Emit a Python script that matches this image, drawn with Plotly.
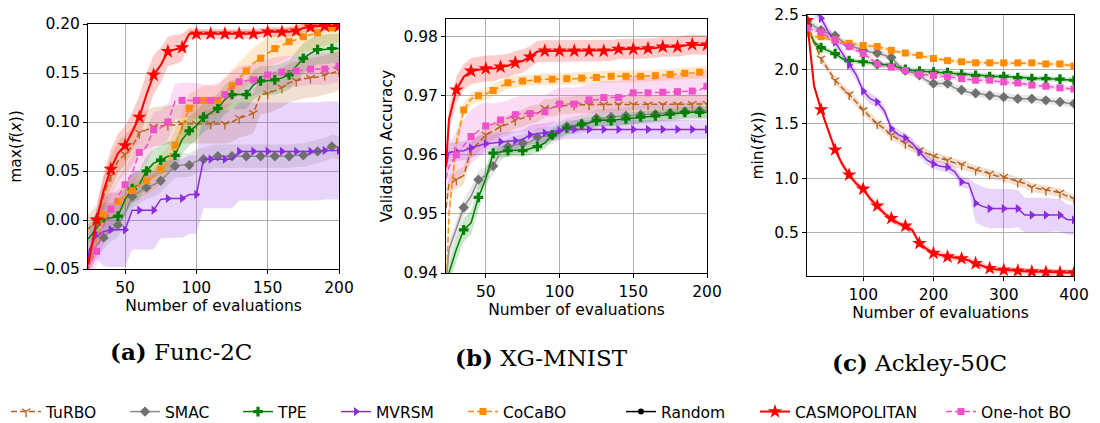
import plotly.graph_objects as go

# ---------------- data ----------------
X_AB = [23, 25, 30, 35, 40, 45, 50, 55, 60, 65, 70, 75, 80, 85, 90, 95, 100,
        105, 110, 115, 120, 125, 130, 135, 140, 145, 150, 155, 160, 165, 170,
        175, 180, 185, 190, 195, 200]
X_C = [20, 30, 40, 50, 60, 70, 80, 90, 100, 110, 120, 130, 140, 150, 160, 170,
       180, 190, 200, 210, 220, 230, 240, 250, 260, 270, 280, 290, 300, 310,
       320, 330, 340, 350, 360, 370, 380, 390, 400]

SERIES = ["TuRBO", "SMAC", "TPE", "MVRSM", "CoCaBO", "Random", "CASMOPOLITAN", "One-hot BO"]

# (a) Func-2C : max(f(x))
A_TURBO = [-0.010, -0.008, 0.000, 0.025, 0.045, 0.060, 0.067, 0.075, 0.089, 0.092, 0.095, 0.096, 0.097,
           0.097, 0.098, 0.098, 0.098, 0.098, 0.098, 0.098, 0.098, 0.100, 0.104, 0.106, 0.109, 0.128,
           0.129, 0.132, 0.135, 0.140, 0.142, 0.144, 0.145, 0.146, 0.148, 0.150, 0.152]
A_TURBO_ERR = [0.015, 0.015, 0.015, 0.018, 0.02, 0.02, 0.02, 0.02, 0.02, 0.02, 0.02, 0.02, 0.02,
               0.02, 0.02, 0.02, 0.02, 0.02, 0.02, 0.02, 0.02, 0.02, 0.02, 0.02, 0.02, 0.02,
               0.02, 0.02, 0.02, 0.02, 0.02, 0.02, 0.02, 0.02, 0.02, 0.02, 0.02]
A_SMAC = [-0.050, -0.045, -0.025, -0.018, -0.010, -0.005, 0.007, 0.024, 0.029, 0.033, 0.036, 0.040, 0.048,
          0.055, 0.056, 0.056, 0.060, 0.062, 0.064, 0.065, 0.065, 0.065, 0.065, 0.065, 0.065, 0.065,
          0.065, 0.065, 0.065, 0.065, 0.066, 0.066, 0.068, 0.070, 0.072, 0.075, 0.074]
A_SMAC_ERR = [0.012] * 37
A_TPE = [-0.020, -0.018, -0.008, 0.002, 0.002, 0.004, 0.021, 0.032, 0.036, 0.050, 0.058, 0.061, 0.065,
         0.066, 0.082, 0.091, 0.096, 0.105, 0.109, 0.114, 0.123, 0.128, 0.128, 0.128, 0.138, 0.142,
         0.142, 0.143, 0.145, 0.148, 0.157, 0.165, 0.170, 0.174, 0.174, 0.175, 0.175]
A_TPE_ERR = [0.015] * 37
A_MVRSM = [-0.050, -0.030, -0.015, -0.012, -0.010, -0.010, -0.010, 0.010, 0.010, 0.010, 0.010, 0.021, 0.022,
           0.022, 0.022, 0.026, 0.026, 0.062, 0.062, 0.062, 0.062, 0.062, 0.070, 0.070, 0.070, 0.070,
           0.070, 0.070, 0.070, 0.070, 0.070, 0.070, 0.070, 0.070, 0.071, 0.071, 0.071]
A_MVRSM_ERR = [0.010, 0.020, 0.025, 0.035, 0.038, 0.038, 0.038, 0.040, 0.040, 0.040, 0.040, 0.040, 0.040,
               0.040, 0.040, 0.040, 0.040, 0.050, 0.050, 0.050, 0.050, 0.050, 0.050, 0.050, 0.050, 0.050,
               0.050, 0.050, 0.050, 0.050, 0.050, 0.050, 0.050, 0.050, 0.050, 0.050, 0.050]
A_COCABO = [-0.050, -0.045, -0.020, 0.005, 0.014, 0.019, 0.024, 0.030, 0.036, 0.040, 0.044, 0.052, 0.060,
            0.076, 0.095, 0.114, 0.118, 0.122, 0.122, 0.122, 0.130, 0.137, 0.145, 0.152, 0.160, 0.165,
            0.170, 0.175, 0.178, 0.182, 0.184, 0.187, 0.189, 0.191, 0.194, 0.196, 0.197]
A_COCABO_ERR = [0.010, 0.010, 0.012, 0.012, 0.012, 0.012, 0.012, 0.012, 0.012, 0.014, 0.014, 0.015, 0.015,
                0.015, 0.015, 0.015, 0.015, 0.015, 0.015, 0.015, 0.016, 0.016, 0.016, 0.016, 0.016, 0.016,
                0.016, 0.016, 0.016, 0.016, 0.016, 0.016, 0.016, 0.016, 0.016, 0.016, 0.016]
A_CASMO = [-0.055, -0.040, 0.000, 0.030, 0.052, 0.068, 0.076, 0.090, 0.105, 0.128, 0.148, 0.158, 0.172,
           0.174, 0.176, 0.190, 0.190, 0.190, 0.190, 0.190, 0.190, 0.190, 0.190, 0.190, 0.190, 0.191,
           0.192, 0.192, 0.192, 0.192, 0.193, 0.196, 0.197, 0.198, 0.198, 0.198, 0.198]
A_CASMO_ERR = [0.005, 0.008, 0.012, 0.018, 0.020, 0.020, 0.020, 0.020, 0.022, 0.022, 0.020, 0.018, 0.015,
               0.015, 0.014, 0.006, 0.005, 0.005, 0.005, 0.005, 0.005, 0.005, 0.005, 0.005, 0.005, 0.005,
               0.005, 0.005, 0.005, 0.005, 0.005, 0.005, 0.005, 0.005, 0.005, 0.005, 0.005]
A_ONEHOT = [-0.050, -0.045, -0.032, -0.006, 0.011, 0.024, 0.036, 0.048, 0.069, 0.075, 0.092, 0.094, 0.100,
            0.121, 0.122, 0.122, 0.122, 0.122, 0.122, 0.124, 0.128, 0.135, 0.141, 0.142, 0.143, 0.146,
            0.148, 0.150, 0.151, 0.151, 0.152, 0.153, 0.154, 0.154, 0.154, 0.155, 0.157]
A_ONEHOT_ERR = [0.015, 0.015, 0.015, 0.018, 0.018, 0.018, 0.018, 0.018, 0.018, 0.018, 0.018, 0.018, 0.018,
                0.018, 0.018, 0.018, 0.018, 0.016, 0.016, 0.016, 0.016, 0.016, 0.016, 0.016, 0.016, 0.016,
                0.016, 0.016, 0.016, 0.016, 0.016, 0.016, 0.016, 0.016, 0.016, 0.016, 0.016]

# (b) XG-MNIST : validation accuracy
B_TURBO = [0.9510, 0.9550, 0.9558, 0.9565, 0.9608, 0.9620, 0.9634, 0.9640, 0.9648, 0.9652, 0.9659, 0.9662,
           0.9668, 0.9670, 0.9679, 0.9680, 0.9683, 0.9684, 0.9685, 0.9685, 0.9685, 0.9685, 0.9685, 0.9685,
           0.9685, 0.9685, 0.9685, 0.9685, 0.9685, 0.9685, 0.9685, 0.9685, 0.9685, 0.9685, 0.9686, 0.9686, 0.9686]
B_TURBO_ERR = [0.0015] * 37
B_SMAC = [0.9380, 0.9440, 0.9475, 0.9511, 0.9530, 0.9558, 0.9565, 0.9581, 0.9605, 0.9614, 0.9617, 0.9620,
          0.9622, 0.9630, 0.9632, 0.9633, 0.9640, 0.9648, 0.9650, 0.9652, 0.9655, 0.9662, 0.9662, 0.9664,
          0.9665, 0.9666, 0.9667, 0.9668, 0.9668, 0.9669, 0.9670, 0.9671, 0.9672, 0.9673, 0.9674, 0.9675, 0.9675]
B_SMAC_ERR = [0.0015] * 37
B_TPE = [0.9360, 0.9400, 0.9440, 0.9473, 0.9485, 0.9528, 0.9560, 0.9603, 0.9605, 0.9607, 0.9608, 0.9607,
         0.9610, 0.9614, 0.9620, 0.9634, 0.9640, 0.9645, 0.9648, 0.9652, 0.9654, 0.9658, 0.9659, 0.9658,
         0.9660, 0.9661, 0.9662, 0.9664, 0.9665, 0.9666, 0.9667, 0.9669, 0.9670, 0.9672, 0.9672, 0.9672, 0.9672]
B_TPE_ERR = [0.0020, 0.0020, 0.0020, 0.0020, 0.0020, 0.0020, 0.0018, 0.0012, 0.0010, 0.0010, 0.0010, 0.0010,
             0.0010, 0.0010, 0.0010, 0.0010, 0.0010, 0.0010, 0.0010, 0.0010, 0.0010, 0.0010, 0.0010, 0.0010,
             0.0010, 0.0010, 0.0010, 0.0010, 0.0010, 0.0010, 0.0010, 0.0010, 0.0010, 0.0010, 0.0010, 0.0010, 0.0010]
B_MVRSM = [0.9580, 0.9604, 0.9606, 0.9607, 0.9612, 0.9616, 0.9619, 0.9620, 0.9622, 0.9623, 0.9624, 0.9626,
           0.9634, 0.9636, 0.9637, 0.9640, 0.9641, 0.9643, 0.9643, 0.9643, 0.9643, 0.9643, 0.9643, 0.9643,
           0.9643, 0.9643, 0.9643, 0.9643, 0.9643, 0.9643, 0.9643, 0.9643, 0.9643, 0.9643, 0.9643, 0.9643, 0.9643]
B_MVRSM_ERR = [0.0016] * 37
B_COCABO = [0.9360, 0.9500, 0.9620, 0.9676, 0.9695, 0.9700, 0.9703, 0.9709, 0.9715, 0.9722, 0.9724, 0.9725,
            0.9727, 0.9728, 0.9728, 0.9728, 0.9729, 0.9729, 0.9729, 0.9730, 0.9730, 0.9731, 0.9732, 0.9733,
            0.9733, 0.9733, 0.9733, 0.9733, 0.9733, 0.9734, 0.9735, 0.9736, 0.9737, 0.9738, 0.9739, 0.9740, 0.9740]
B_COCABO_ERR = [0.0020, 0.0020, 0.0015, 0.0012, 0.0010, 0.0010, 0.0010, 0.0010, 0.0010, 0.0010, 0.0010, 0.0010,
                0.0010, 0.0010, 0.0010, 0.0010, 0.0010, 0.0010, 0.0010, 0.0010, 0.0010, 0.0010, 0.0010, 0.0010,
                0.0010, 0.0010, 0.0010, 0.0010, 0.0010, 0.0010, 0.0010, 0.0010, 0.0010, 0.0010, 0.0010, 0.0010, 0.0010]
B_CASMO = [0.9580, 0.9660, 0.9710, 0.9732, 0.9742, 0.9744, 0.9746, 0.9746, 0.9749, 0.9751, 0.9756, 0.9759,
           0.9766, 0.9775, 0.9776, 0.9776, 0.9776, 0.9776, 0.9776, 0.9776, 0.9776, 0.9776, 0.9776, 0.9777,
           0.9779, 0.9779, 0.9779, 0.9779, 0.9780, 0.9781, 0.9783, 0.9783, 0.9783, 0.9785, 0.9787, 0.9786, 0.9786]
B_CASMO_ERR = [0.0020, 0.0022, 0.0022, 0.0022, 0.0022, 0.0022, 0.0022, 0.0022, 0.0020, 0.0020, 0.0020, 0.0020,
               0.0018, 0.0018, 0.0018, 0.0018, 0.0018, 0.0018, 0.0018, 0.0018, 0.0018, 0.0018, 0.0018, 0.0018,
               0.0017, 0.0017, 0.0017, 0.0017, 0.0017, 0.0017, 0.0017, 0.0017, 0.0017, 0.0017, 0.0017, 0.0017, 0.0017]
B_ONEHOT = [0.9560, 0.9580, 0.9600, 0.9615, 0.9631, 0.9640, 0.9649, 0.9652, 0.9659, 0.9662, 0.9668, 0.9670,
            0.9670, 0.9671, 0.9673, 0.9680, 0.9686, 0.9686, 0.9686, 0.9688, 0.9693, 0.9693, 0.9697, 0.9697,
            0.9697, 0.9700, 0.9705, 0.9705, 0.9705, 0.9705, 0.9706, 0.9706, 0.9707, 0.9707, 0.9708, 0.9710, 0.9716]
B_ONEHOT_ERR = [0.0030, 0.0035, 0.0040, 0.0045, 0.0045, 0.0045, 0.0040, 0.0035, 0.0030, 0.0030, 0.0030, 0.0030,
                0.0030, 0.0030, 0.0028, 0.0028, 0.0028, 0.0028, 0.0028, 0.0028, 0.0028, 0.0028, 0.0028, 0.0028,
                0.0028, 0.0028, 0.0028, 0.0028, 0.0028, 0.0028, 0.0028, 0.0028, 0.0028, 0.0028, 0.0028, 0.0028, 0.0028]

# (c) Ackley-50C : min(f(x))
C_TURBO = [2.42, 2.25, 2.10, 2.00, 1.90, 1.83, 1.77, 1.70, 1.625, 1.56, 1.50, 1.455, 1.395, 1.355, 1.32,
           1.28, 1.255, 1.225, 1.20, 1.18, 1.165, 1.14, 1.125, 1.10, 1.075, 1.06, 1.04, 1.02, 1.01, 0.99,
           0.965, 0.95, 0.915, 0.90, 0.89, 0.88, 0.865, 0.835, 0.81]
C_TURBO_ERR = [0.04] * 39
C_SMAC = [2.45, 2.40, 2.36, 2.33, 2.31, 2.26, 2.22, 2.20, 2.175, 2.16, 2.15, 2.13, 2.11, 2.04, 1.99,
          1.97, 1.945, 1.90, 1.87, 1.87, 1.87, 1.83, 1.81, 1.79, 1.78, 1.77, 1.76, 1.75, 1.745, 1.74,
          1.73, 1.73, 1.73, 1.72, 1.715, 1.71, 1.70, 1.69, 1.685]
C_SMAC_ERR = [0.035] * 39
C_TPE = [2.40, 2.25, 2.20, 2.17, 2.145, 2.10, 2.08, 2.075, 2.07, 2.06, 2.05, 2.045, 2.04, 2.02, 2.00,
         1.99, 1.985, 1.98, 1.975, 1.97, 1.97, 1.96, 1.955, 1.95, 1.945, 1.94, 1.935, 1.935, 1.935, 1.93,
         1.925, 1.92, 1.915, 1.915, 1.915, 1.91, 1.91, 1.905, 1.90]
C_TPE_ERR = [0.025] * 39
C_MVRSM = [2.60, 2.55, 2.47, 2.35, 2.25, 2.15, 2.04, 1.95, 1.80, 1.73, 1.70, 1.62, 1.455, 1.40, 1.37,
           1.32, 1.24, 1.17, 1.13, 1.11, 1.10, 1.06, 0.965, 0.95, 0.77, 0.74, 0.72, 0.72, 0.72, 0.72,
           0.72, 0.66, 0.66, 0.66, 0.66, 0.66, 0.66, 0.62, 0.615]
C_MVRSM_ERR = [0.05, 0.05, 0.05, 0.05, 0.05, 0.05, 0.05, 0.05, 0.05, 0.05, 0.045, 0.045, 0.045, 0.045, 0.045,
               0.045, 0.045, 0.045, 0.045, 0.045, 0.045, 0.045, 0.05, 0.05, 0.18, 0.18, 0.18, 0.18, 0.18, 0.18,
               0.17, 0.16, 0.16, 0.16, 0.16, 0.15, 0.15, 0.14, 0.14]
C_COCABO = [2.33, 2.30, 2.30, 2.28, 2.27, 2.25, 2.24, 2.23, 2.22, 2.215, 2.21, 2.19, 2.175, 2.16, 2.15,
            2.14, 2.13, 2.115, 2.10, 2.09, 2.08, 2.075, 2.07, 2.065, 2.06, 2.06, 2.06, 2.06, 2.06, 2.06,
            2.06, 2.06, 2.06, 2.055, 2.05, 2.05, 2.05, 2.04, 2.03]
C_COCABO_ERR = [0.02] * 39
C_CASMO = [2.45, 1.85, 1.63, 1.44, 1.26, 1.13, 1.03, 0.95, 0.90, 0.81, 0.745, 0.675, 0.63, 0.585, 0.56,
           0.52, 0.40, 0.35, 0.31, 0.29, 0.277, 0.27, 0.26, 0.245, 0.215, 0.195, 0.17, 0.16, 0.155, 0.15,
           0.148, 0.14, 0.14, 0.138, 0.135, 0.133, 0.132, 0.13, 0.13]
C_CASMO_ERR = [0.03] * 39
C_ONEHOT = [2.38, 2.36, 2.34, 2.30, 2.27, 2.24, 2.21, 2.18, 2.145, 2.10, 2.05, 2.03, 2.02, 2.00, 1.99,
            1.97, 1.955, 1.95, 1.945, 1.94, 1.935, 1.925, 1.915, 1.905, 1.90, 1.90, 1.90, 1.89, 1.885, 1.88,
            1.875, 1.865, 1.855, 1.85, 1.845, 1.84, 1.83, 1.825, 1.82]
C_ONEHOT_ERR = [0.025] * 39

PANELS = [
    dict(x=X_AB, ax="", mstart=30, step=10, data={
        "TuRBO": (A_TURBO, A_TURBO_ERR), "SMAC": (A_SMAC, A_SMAC_ERR), "TPE": (A_TPE, A_TPE_ERR),
        "MVRSM": (A_MVRSM, A_MVRSM_ERR), "CoCaBO": (A_COCABO, A_COCABO_ERR),
        "CASMOPOLITAN": (A_CASMO, A_CASMO_ERR), "One-hot BO": (A_ONEHOT, A_ONEHOT_ERR)}),
    dict(x=X_AB, ax="2", mstart=30, step=10, data={
        "TuRBO": (B_TURBO, B_TURBO_ERR), "SMAC": (B_SMAC, B_SMAC_ERR), "TPE": (B_TPE, B_TPE_ERR),
        "MVRSM": (B_MVRSM, B_MVRSM_ERR), "CoCaBO": (B_COCABO, B_COCABO_ERR),
        "CASMOPOLITAN": (B_CASMO, B_CASMO_ERR), "One-hot BO": (B_ONEHOT, B_ONEHOT_ERR)}),
    dict(x=X_C, ax="3", mstart=20, step=20, data={
        "TuRBO": (C_TURBO, C_TURBO_ERR), "SMAC": (C_SMAC, C_SMAC_ERR), "TPE": (C_TPE, C_TPE_ERR),
        "MVRSM": (C_MVRSM, C_MVRSM_ERR), "CoCaBO": (C_COCABO, C_COCABO_ERR),
        "CASMOPOLITAN": (C_CASMO, C_CASMO_ERR), "One-hot BO": (C_ONEHOT, C_ONEHOT_ERR)}),
]

# ---------------- styles ----------------
STYLE = {
    "TuRBO":        dict(color="#b8621b", mcolor="#b8621b", dash="6px,3px", sym="y-down", size=7, lw=1.5, off=0),
    "SMAC":         dict(color="#8a8a8a", mcolor="#707070", dash="solid", sym="diamond", size=8, lw=1.5, off=5),
    "TPE":          dict(color="#008000", mcolor="#008000", dash="solid", sym="cross", size=8, lw=1.5, off=5),
    "MVRSM":        dict(color="#8a2be2", mcolor="#8a2be2", dash="solid", sym="triangle-right", size=8, lw=1.5, off=0),
    "CoCaBO":       dict(color="#ff8c00", mcolor="#ff8c00", dash="6px,3px", sym="square", size=7, lw=1.5, off=5),
    "Random":       dict(color="#000000", mcolor="#000000", dash="solid", sym="circle", size=6, lw=1.5, off=0),
    "CASMOPOLITAN": dict(color="#ff0000", mcolor="#ff0000", dash="solid", sym="star", size=11, lw=2.0, off=0),
    "One-hot BO":   dict(color="#f050c8", mcolor="#f050c8", dash="6px,3px", sym="square", size=7, lw=1.5, off=0),
}


def rgba(h, a):
    h = h.lstrip("#")
    return "rgba(%d,%d,%d,%.2f)" % (int(h[0:2], 16), int(h[2:4], 16), int(h[4:6], 16), a)


def marker_dict(st):
    if st["sym"].startswith("y-"):
        return dict(symbol=st["sym"], size=st["size"], line=dict(color=st["mcolor"], width=1.3))
    return dict(symbol=st["sym"], size=st["size"], color=st["mcolor"], line=dict(width=0))


fig = go.Figure()

for pi, p in enumerate(PANELS):
    xs = p["x"]
    xa, ya = "x" + p["ax"], "y" + p["ax"]
    step = p["step"]
    for name in SERIES:
        if name not in p["data"]:
            continue
        m, e = p["data"][name]
        assert len(m) == len(xs) and len(e) == len(xs), (pi, name)
        up = [a + b for a, b in zip(m, e)]
        lo = [a - b for a, b in zip(m, e)]
        fig.add_trace(go.Scatter(x=xs + xs[::-1], y=up + lo[::-1], fill="toself", mode="lines",
                                 line=dict(width=0), fillcolor=rgba(STYLE[name]["color"], 0.2),
                                 hoverinfo="skip", showlegend=False, xaxis=xa, yaxis=ya))
    for name in SERIES:
        if name not in p["data"]:
            continue
        st = STYLE[name]
        m, _ = p["data"][name]
        fig.add_trace(go.Scatter(x=xs, y=m, mode="lines",
                                 line=dict(color=st["color"], width=st["lw"], dash=st["dash"]),
                                 showlegend=False, xaxis=xa, yaxis=ya))
        off = 0 if step == 20 else st["off"]
        keep = [x >= p["mstart"] and (x - off) % step == 0 for x in xs]
        mx = [x for x, k in zip(xs, keep) if k]
        my = [y for y, k in zip(m, keep) if k]
        fig.add_trace(go.Scatter(x=mx, y=my, mode="markers", marker=marker_dict(st),
                                 showlegend=False, xaxis=xa, yaxis=ya))

# legend entries: one small legend per entry, placed like the reference
LEG_TEXT_X = [48, 167, 280, 378, 505, 663, 797, 983]
LEG_FONT = dict(family="DejaVu Sans", size=15.5, color="black")
layout_legends = {}
for i, name in enumerate(SERIES):
    st = STYLE[name]
    key = "legend" if i == 0 else "legend%d" % (i + 1)
    fig.add_trace(go.Scatter(x=[None], y=[None], mode="lines+markers", name=name,
                             line=dict(color=st["color"], width=st["lw"], dash=st["dash"]),
                             marker=marker_dict(st), legend=key, showlegend=True))
    layout_legends[key] = dict(x=(LEG_TEXT_X[i] - 42) / 1100, y=1 - 412 / 423, xanchor="left",
                               yanchor="middle", orientation="h", bgcolor="rgba(0,0,0,0)",
                               borderwidth=0, font=LEG_FONT)

FONT = dict(family="DejaVu Sans", size=15.5, color="black")
W, H = 1100, 423


def axstyle(dom, rng, tickvals, fmt, title, standoff):
    return dict(domain=dom, range=rng, tickvals=tickvals, tickformat=fmt, showgrid=True,
                gridcolor="#b0b0b0", gridwidth=1, zeroline=False, showline=True, mirror=True,
                linecolor="black", linewidth=1, ticks="outside", ticklen=4, tickcolor="black",
                tickfont=FONT, title=dict(text=title, font=FONT, standoff=standoff))


def px_dom(a, b):
    return [a / W, b / W]


def py_dom(top, bottom):
    return [1 - bottom / H, 1 - top / H]


fig.update_layout(
    width=W, height=H, margin=dict(l=0, r=0, t=0, b=0, autoexpand=False),
    paper_bgcolor="white", plot_bgcolor="white", font=FONT,
    xaxis=axstyle(px_dom(88, 339), [24, 200], [50, 100, 150, 200], "d", "Number of evaluations", 1),
    yaxis=axstyle(py_dom(24, 269), [-0.05, 0.20], [-0.05, 0.0, 0.05, 0.10, 0.15, 0.20], ".2f",
                  "max(<i>f</i>(<i>x</i>))", 6),
    xaxis2=axstyle(px_dom(446, 707), [23, 200], [50, 100, 150, 200], "d", "Number of evaluations", 1),
    yaxis2=axstyle(py_dom(19, 273), [0.94, 0.983], [0.94, 0.95, 0.96, 0.97, 0.98], ".2f",
                   "Validation Accuracy", 6),
    xaxis3=axstyle(px_dom(807, 1074), [20, 400], [100, 200, 300, 400], "d", "Number of evaluations", 1),
    yaxis3=axstyle(py_dom(15, 276), [0.1, 2.5], [0.5, 1.0, 1.5, 2.0, 2.5], ".1f",
                   "min(<i>f</i>(<i>x</i>))", 6),
    **layout_legends,
)
fig.layout.xaxis.anchor = "y"
fig.layout.yaxis.anchor = "x"
fig.layout.xaxis2.anchor = "y2"
fig.layout.yaxis2.anchor = "x2"
fig.layout.xaxis3.anchor = "y3"
fig.layout.yaxis3.anchor = "x3"

CAPTIONS = [("<b>(a)</b> Func-2C", 181, 351), ("<b>(b)</b> XG-MNIST", 541, 357),
            ("<b>(c)</b> Ackley-50C", 919, 362)]
for txt, cx, cy in CAPTIONS:
    fig.add_annotation(text=txt, x=cx / W, y=1 - cy / H, xref="paper", yref="paper", showarrow=False,
                       xanchor="center", yanchor="middle",
                       font=dict(family="DejaVu Serif", size=23, color="black"))

fig.write_html("out.html")
